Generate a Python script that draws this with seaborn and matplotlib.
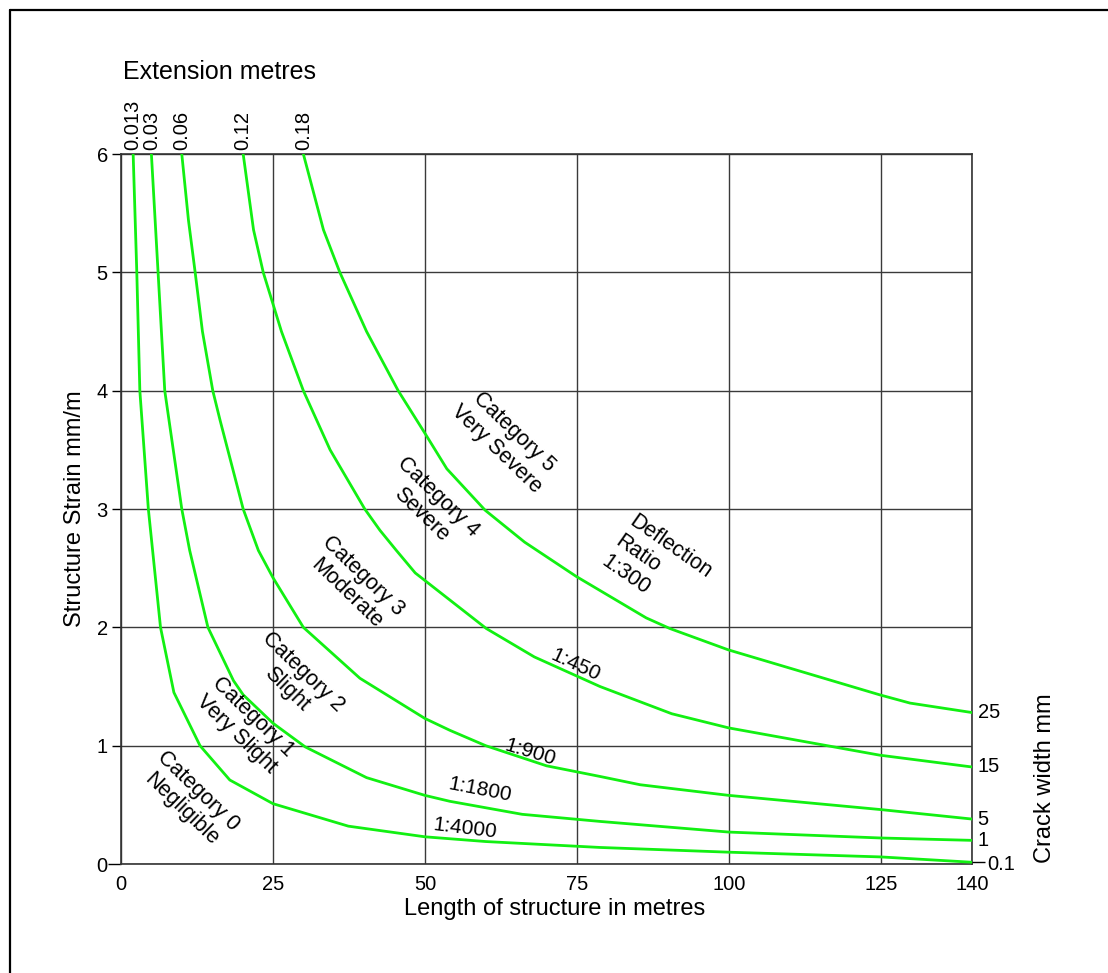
#!/usr/bin/env python3
# plot.py - crack width / structure strain damage chart

import pandas as pd
import matplotlib.pyplot as plt
from matplotlib.lines import Line2D
import seaborn as sns

sns.set_theme(style="white")
plt.rcParams["font.family"] = ["Liberation Sans", "DejaVu Sans"]
plt.rcParams["text.color"] = "black"
plt.rcParams["axes.labelcolor"] = "black"

# 1. Curves (length m, strain mm/m)
len_a = [2.0, 2.6, 3.1, 4.5, 5.2, 6.5, 8.7, 13.0, 17.9, 25.0, 37.4, 50.0, 60.0, 78.8, 100.0, 125.0, 140.0]
strain_a = [6.0, 5.0, 4.0, 3.0, 2.65, 2.0, 1.45, 1.0, 0.71, 0.51, 0.32, 0.23, 0.19, 0.14, 0.10, 0.06, 0.015]

len_b = [5.0, 6.1, 7.2, 10.0, 11.3, 14.3, 18.5, 20.1, 25.0, 30.3, 40.4, 50.0, 54.1, 66.0, 78.8, 100.0, 125.0, 140.0]
strain_b = [6.0, 5.0, 4.0, 3.0, 2.65, 2.0, 1.55, 1.43, 1.19, 0.99, 0.73, 0.58, 0.53, 0.42, 0.36, 0.27, 0.22, 0.20]

len_c = [10.0, 11.1, 12.2, 13.4, 15.1, 16.3, 20.1, 22.6, 25.0, 30.0, 39.3, 50.0, 54.1, 60.0, 70.0, 78.8, 85.4, 100.0, 125.0, 140.0]
strain_c = [6.0, 5.44, 5.0, 4.5, 4.0, 3.75, 3.0, 2.65, 2.42, 2.0, 1.57, 1.23, 1.13, 1.0, 0.83, 0.74, 0.67, 0.58, 0.46, 0.38]

len_d = [20.1, 21.8, 23.4, 26.4, 30.0, 34.4, 40.1, 42.6, 45.3, 48.4, 60.1, 68.0, 78.8, 90.6, 100.0, 124.8, 140.0]
strain_d = [6.0, 5.36, 5.0, 4.5, 4.0, 3.5, 3.0, 2.82, 2.65, 2.46, 1.99, 1.75, 1.5, 1.27, 1.15, 0.92, 0.82]

len_e = [30.0, 33.3, 36.0, 40.4, 45.6, 50.0, 53.6, 59.9, 66.4, 74.9, 86.4, 90.3, 99.9, 124.8, 129.8, 140.0]
strain_e = [6.0, 5.36, 5.0, 4.5, 4.0, 3.64, 3.34, 2.99, 2.72, 2.43, 2.08, 1.99, 1.81, 1.43, 1.36, 1.28]

ext_labels = ["0.013", "0.03", "0.06", "0.12", "0.18"]
crack_labels = ["0.1", "1", "5", "15", "25"]

x_ticks = [0, 25, 50, 75, 100, 125, 140]
y_ticks = [0, 1, 2, 3, 4, 5, 6]

curves = [(len_a, strain_a), (len_b, strain_b), (len_c, strain_c),
          (len_d, strain_d), (len_e, strain_e)]
df = pd.concat(
    [pd.DataFrame({"length": l, "strain": s, "curve": ext_labels[i]})
     for i, (l, s) in enumerate(curves)],
    ignore_index=True,
)

# 2. Category and deflection ratio labels (text, x, y, rotation)
cat_labels = [
    ("Category 0\nNegligible", 11.3, 0.54, -44),
    ("Category 1\nVery Slight", 20.4, 1.17, -44),
    ("Category 2\nSlight", 28.6, 1.55, -44),
    ("Category 3\nModerate", 38.5, 2.36, -44),
    ("Category 4\nSevere", 50.8, 3.03, -44),
    ("Category 5\nVery Severe", 63.2, 3.58, -44),
]
ratio_labels = [
    ("1:4000", 56.6, 0.30, -7),
    ("1:1800", 59.0, 0.63, -11),
    ("1:900", 67.3, 0.94, -17),
    ("1:450", 74.8, 1.68, -25),
]

# 3. Plot
fig = plt.figure(figsize=(11.08, 9.73), dpi=100)
ax = fig.add_axes([0.1092, 0.1120, 0.7681, 0.7297])

sns.lineplot(
    data=df, x="length", y="strain", hue="curve",
    palette=["#12f012"] * 5, estimator=None, sort=False,
    linewidth=2.0, legend=False, ax=ax, zorder=3,
)

ax.set_xlim(0, 140)
ax.set_ylim(0, 6)
ax.set_xticks(x_ticks)
ax.set_yticks(y_ticks)
ax.grid(True, color="#3a3a3a", linewidth=1.0)
for sp in ax.spines.values():
    sp.set_color("#333333")
    sp.set_linewidth(1.2)

ax.tick_params(axis="x", length=0, pad=8, labelsize=14.5, colors="black")
ax.tick_params(axis="y", length=6.5, width=1.0, pad=3, labelsize=14.5,
               direction="out", left=True, colors="black")
ax.xaxis.get_major_ticks()[0].tick1line.set_markersize(9)
ax.yaxis.get_major_ticks()[0].tick1line.set_markersize(9.5)
for t in ax.yaxis.get_major_ticks():
    t.tick1line.set_color("#333333")
ax.xaxis.get_major_ticks()[0].tick1line.set_color("#333333")

ax.set_xlabel("Length of structure in metres", fontsize=17)
ax.xaxis.set_label_coords(0.51, -0.048)
ax.set_ylabel("Structure Strain mm/m", fontsize=17)
ax.yaxis.set_label_coords(-0.041, 0.5)

# extension labels along the top
for (l, s), lbl in zip(curves, ext_labels):
    ax.annotate(lbl, (l[0], 1), xycoords=("data", "axes fraction"),
                xytext=(0, 3), textcoords="offset points",
                rotation=90, ha="center", va="bottom", fontsize=14.5)

# crack width labels on the right
for (l, s), lbl in zip(curves[1:], crack_labels[1:]):
    ax.annotate(lbl, (l[-1], s[-1]), xytext=(4, 0),
                textcoords="offset points", ha="left", va="center",
                fontsize=14.5, annotation_clip=False)
ax2 = ax.twinx()
ax2.set_ylim(0, 6)
ax2.set_yticks([strain_a[-1]])
ax2.set_yticklabels([crack_labels[0]])
ax2.tick_params(axis="y", length=9, width=1.0, pad=2, labelsize=14.5,
                colors="black")
ax2.grid(False)
for sp in ax2.spines.values():
    sp.set_visible(False)

fig.text(0.9431, 0.2004, "Crack width mm", rotation=90,
         ha="center", va="center", fontsize=17)
fig.text(0.111, 0.926, "Extension metres", ha="left", va="center", fontsize=18)

for txt, x, y, rot in cat_labels:
    ax.text(x, y, txt, rotation=rot, rotation_mode="anchor",
            ha="center", va="center", multialignment="center", fontsize=15.5)
for txt, x, y, rot in ratio_labels:
    ax.text(x, y, txt, rotation=rot, rotation_mode="anchor",
            ha="center", va="center", fontsize=15)
ax.text(88.1, 2.51, "Deflection\nRatio\n1:300", rotation=-35,
        rotation_mode="anchor", ha="center", va="center",
        multialignment="left", fontsize=15.5)

# frame line on the left and top of the figure
fig.add_artist(Line2D([0.009, 0.009], [0.0, 0.9897], color="black", lw=1.6))
fig.add_artist(Line2D([0.009, 1.0], [0.9897, 0.9897], color="black", lw=1.6))

# 4. Save
fig.savefig("out.png", dpi=100)
plt.close(fig)
